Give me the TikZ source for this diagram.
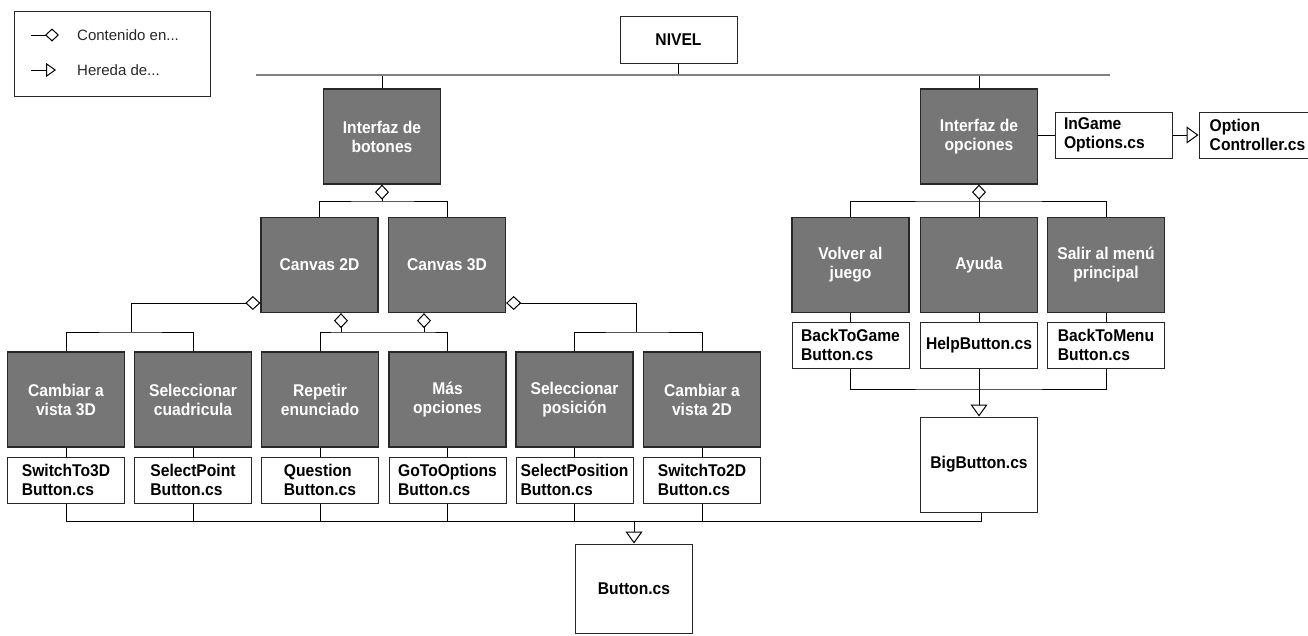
\documentclass[tikz,border=0pt]{standalone}
\usepackage{fontspec}
\setmainfont{Liberation Sans}
\newfontfamily\boxfont{Liberation Sans}[FakeStretch=0.92]
\usetikzlibrary{arrows.meta}
\definecolor{boxgray}{RGB}{118,118,118}
\definecolor{edge}{RGB}{40,40,40}
\definecolor{nivline}{RGB}{128,128,128}
\definecolor{legtext}{RGB}{40,40,40}
\begin{document}
\begin{tikzpicture}[x=1pt,y=-1pt,
  every node/.style={font=\boxfont\fontsize{17}{19}\selectfont\bfseries, inner sep=0pt},
  gbox/.style={draw=edge, line width=1.3pt, fill=boxgray, text=white, minimum width=117pt, minimum height=95pt, align=center},
  wbox/.style={draw=edge, line width=1pt, fill=white, text=black, minimum width=117pt, minimum height=46pt, align=left},
  conn/.style={draw=black, line width=1pt},
  nivbar/.style={draw=nivline, line width=2.5pt},
  dia/.style={{Diamond[fill=white,length=15pt,width=14pt]}-},
  inh/.style={-{Triangle[open,length=12pt,width=17pt]}},
  legtxt/.style={font=\fontsize{15}{18}\selectfont, text=legtext, anchor=west},
]
\useasboundingbox (0,0) rectangle (1308,635);

% legend
\node[draw=edge, line width=1pt, minimum width=196pt, minimum height=85pt] (leg) at (112,53.5) {};
\coordinate (l1a) at (31,35);
\coordinate (l1b) at (59,35);
\coordinate (l2a) at (31,70);
\coordinate (l2b) at (56,70);
\draw[conn, -{Diamond[fill=white,length=14pt,width=13pt]}] (l1a) -- (l1b);
\draw[conn, -{Triangle[open,length=10pt,width=14pt]}] (l2a) -- (l2b);
\node[legtxt] (lt1) at (77,35) {Contenido en...};
\node[legtxt] (lt2) at (77,70) {Hereda de...};

% top
\node[wbox, align=center, minimum height=47pt] (nivel) at (678.5,39.5) {NIVEL};
\node[gbox] (ib) at (382,136.5) {Interfaz de\\botones};
\node[gbox] (io) at (979,136.5) {Interfaz de\\opciones};
\node[wbox, text width=99pt, inner xsep=9pt, minimum width=117pt] (ingame) at (1113.5,135) {InGame\\Options.cs};
\node[wbox] (optc) at (1257.5,135) {Option\\Controller.cs};

% canvases
\node[gbox] (c2) at (319.5,265) {Canvas 2D};
\node[gbox] (c3) at (447,265) {Canvas 3D};

% bottom grey row
\node[gbox] (b1) at (66,399.5) {Cambiar a\\vista 3D};
\node[gbox] (b2) at (193,399.5) {Seleccionar\\cuadricula};
\node[gbox] (b3) at (320,399.5) {Repetir\\enunciado};
\node[gbox] (b4) at (447.5,399.5) {Más\\opciones};
\node[gbox] (b5) at (574.5,399.5) {Seleccionar\\posición};
\node[gbox] (b6) at (702,399.5) {Cambiar a\\vista 2D};

% bottom white row
\node[wbox] (w1) at (66,480) {SwitchTo3D\\Button.cs};
\node[wbox] (w2) at (193,480) {SelectPoint\\Button.cs};
\node[wbox] (w3) at (320,480) {Question\\Button.cs};
\node[wbox] (w4) at (447.5,480) {GoToOptions\\Button.cs};
\node[wbox] (w5) at (574.5,480) {SelectPosition\\Button.cs};
\node[wbox] (w6) at (702,480) {SwitchTo2D\\Button.cs};

% right grey row
\node[gbox] (v) at (850.5,265) {Volver al\\juego};
\node[gbox] (a) at (979,265) {Ayuda};
\node[gbox] (s) at (1106,265) {Salir al menú\\principal};

% right white row
\node[wbox] (wv) at (850.5,345) {BackToGame\\Button.cs};
\node[wbox] (wa) at (979,345) {HelpButton.cs};
\node[wbox] (ws) at (1106,345) {BackToMenu\\Button.cs};

% base classes
\node[wbox, align=center, minimum height=95pt] (bigb) at (979,464.5) {BigButton.cs};
\node[wbox, align=center, minimum height=89pt] (button) at (634,588.5) {Button.cs};

% NIVEL bar
\coordinate (nl) at (256,75);
\coordinate (nr) at (1110,75);
\draw[conn] (nivel.south) -- (nivel.south |- nl);
\draw[conn] (ib.north) -- (ib.north |- nl);
\draw[conn] (io.north) -- (io.north |- nl);
\draw[nivbar] (nl) -- (nr);

% Interfaz de botones -> canvases
\coordinate (j1) at (382,201);
\draw[conn, dia] (ib.south) -- (j1);
\draw[conn] (c2.north) |- (j1) -| (c3.north);

% Canvas 2D left
\coordinate (j2) at (131,332);
\draw[conn, dia] (c2.west |- 0,303) -| (j2);
\draw[conn] (b1.north) |- (j2) -| (b2.north);

% Canvas bottoms
\coordinate (j3) at (341,332);
\coordinate (j4) at (424,332);
\draw[conn, dia] (c2.south -| j3) -- (j3);
\draw[conn, dia] (c3.south -| j4) -- (j4);
\draw[conn] (b3.north) |- (j3) -- (j4) -| (b4.north);

% Canvas 3D right
\coordinate (j5) at (636,332);
\draw[conn, dia] (c3.east |- 0,303) -| (j5);
\draw[conn] (b5.north) |- (j5) -| (b6.north);

% grey -> white ticks
\foreach \i in {1,...,6} {\draw[conn] (b\i.south) -- (w\i.north);}

% bottom bus to Button.cs
\coordinate (busR) at (981,521);
\draw[conn] (w1.south) |- (busR) -- (busR |- bigb.south);
\foreach \i in {2,...,6} {\draw[conn] (w\i.south) -- (w\i.south |- busR);}
\draw[conn, inh] (button.north |- busR) -- (button.north);

% Interfaz de opciones -> children
\coordinate (j6) at (979,201);
\draw[conn, dia] (io.south) -- (j6);
\draw[conn] (v.north) |- (j6) -| (s.north);
\draw[conn] (a.north) -- (j6);
\draw[conn] (v.south) -- (wv.north);
\draw[conn] (a.south) -- (wa.north);
\draw[conn] (s.south) -- (ws.north);

% right bus to BigButton
\coordinate (j7) at (979,389);
\draw[conn] (wv.south) |- (j7) -| (ws.south);
\draw[conn, inh] (wa.south) -- (bigb.north);

% InGame
\draw[conn] (ingame.west -| io.east) -- (ingame.west);
\draw[conn, inh] (ingame.east) -- (optc.west);
\end{tikzpicture}
\end{document}
